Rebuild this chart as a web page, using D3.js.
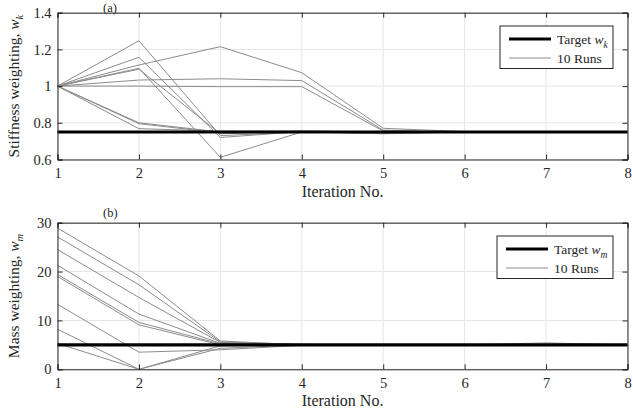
<!DOCTYPE html>
<html>
<head>
<meta charset="utf-8">
<script src="https://cdn.jsdelivr.net/npm/d3@7"></script>
<style>
  body { margin: 0; background: #fff; }
  svg { display: block; font-family: "Liberation Serif", "DejaVu Serif", serif; }
  .grid line { stroke: #e6e6e6; stroke-width: 1; }
  .run { fill: none; stroke: #8c8c8c; stroke-width: 1; }
  .target { fill: none; stroke: #000; stroke-width: 3.2; }
</style>
</head>
<body>
<svg id="chart"></svg>
<script>
const iterations = [1, 2, 3, 4, 5, 6, 7, 8];

const wkTarget = 0.75;
const wkRuns = [
  [1, 1.247, 0.730, 0.750, 0.748, 0.750, 0.750, 0.750],
  [1, 1.157, 0.720, 0.752, 0.750, 0.750, 0.750, 0.750],
  [1, 1.115, 1.215, 1.073, 0.770, 0.752, 0.750, 0.750],
  [1, 1.097, 0.612, 0.750, 0.745, 0.750, 0.750, 0.750],
  [1, 1.092, 0.740, 0.755, 0.750, 0.750, 0.750, 0.750],
  [1, 1.033, 1.040, 1.030, 0.760, 0.750, 0.750, 0.750],
  [1, 1.000, 0.997, 0.997, 0.755, 0.750, 0.750, 0.750],
  [1, 0.800, 0.750, 0.752, 0.740, 0.750, 0.750, 0.750],
  [1, 0.795, 0.745, 0.750, 0.742, 0.750, 0.750, 0.750],
  [1, 0.768, 0.755, 0.755, 0.750, 0.750, 0.750, 0.750]
];
const wkTicks = [0.6, 0.8, 1, 1.2, 1.4];

const wmTarget = 5;
const wmRuns = [
  [28.9, 19.1, 5.8, 5.0, 5.0, 5.0, 5.0, 5.0],
  [27.1, 17.3, 5.6, 5.1, 5.0, 5.0, 5.4, 5.0],
  [24.5, 14.7, 5.5, 5.0, 5.0, 5.0, 5.0, 5.0],
  [21.3, 11.3, 5.3, 5.0, 5.0, 5.0, 5.0, 5.0],
  [19.4, 9.6, 5.2, 5.0, 5.0, 5.0, 5.0, 5.0],
  [19.0, 9.1, 5.0, 5.0, 5.0, 5.0, 5.0, 5.0],
  [13.3, 3.5, 4.0, 4.9, 5.0, 5.0, 5.0, 5.0],
  [8.2, 0.0, 4.8, 5.0, 5.0, 5.0, 5.0, 5.0],
  [5.3, 0.0, 4.3, 5.0, 5.0, 5.0, 5.0, 5.0],
  [5.0, 5.0, 4.9, 5.0, 5.0, 5.0, 5.0, 5.0]
];
const wmTicks = [0, 10, 20, 30];

const width = 633, height = 420;
const svg = d3.select("#chart").attr("width", width).attr("height", height);

const x = d3.scaleLinear().domain([1, 8]).range([57.5, 627.5]);

function panel({ top, bottom, domain, ticks, tickFmt, runs, target, label, labelY, yTitle, sub, legend }) {
  const y = d3.scaleLinear().domain(domain).range([bottom, top]);
  const g = svg.append("g");

  // grid
  g.append("g").attr("class", "grid")
    .selectAll("line.gx").data(iterations).join("line")
    .attr("x1", d => x(d)).attr("x2", d => x(d))
    .attr("y1", top).attr("y2", bottom);
  g.append("g").attr("class", "grid")
    .selectAll("line.gy").data(ticks).join("line")
    .attr("x1", x.range()[0]).attr("x2", x.range()[1])
    .attr("y1", d => y(d)).attr("y2", d => y(d));

  // data
  const line = d3.line().x((d, i) => x(iterations[i])).y(d => y(d));
  g.append("g").selectAll("path").data(runs).join("path")
    .attr("class", "run").attr("d", line);
  g.append("path").attr("class", "target")
    .attr("d", line(iterations.map(() => target)));

  // axes, ticks inward, box on all sides
  const tickLen = 5;
  const axes = g.append("g").attr("class", "axes");
  axes.append("g").attr("transform", `translate(0,${bottom})`)
    .call(d3.axisBottom(x).tickValues(iterations).tickFormat(d3.format("d")).tickSize(-tickLen).tickPadding(8));
  axes.append("g").attr("transform", `translate(0,${top})`)
    .call(d3.axisTop(x).tickValues(iterations).tickFormat("").tickSize(-tickLen));
  axes.append("g").attr("transform", `translate(${x.range()[0]},0)`)
    .call(d3.axisLeft(y).tickValues(ticks).tickFormat(tickFmt).tickSize(-tickLen).tickPadding(6));
  axes.append("g").attr("transform", `translate(${x.range()[1]},0)`)
    .call(d3.axisRight(y).tickValues(ticks).tickFormat("").tickSize(-tickLen));
  axes.selectAll(":scope > g").attr("font-family", null).attr("font-size", 14.5);
  axes.selectAll(".domain").attr("stroke", "#262626").attr("stroke-width", 1);
  axes.selectAll(".tick line").attr("stroke", "#262626");
  axes.selectAll(".tick text").attr("fill", "#262626");

  // titles
  g.append("text").attr("x", x(4.5)).attr("y", bottom + 37)
    .attr("text-anchor", "middle").attr("font-size", 16).attr("fill", "#262626")
    .text("Iteration No.");

  const yt = g.append("text")
    .attr("transform", `translate(19,${(top + bottom) / 2}) rotate(-90)`)
    .attr("text-anchor", "middle").attr("font-size", 15.5).attr("fill", "#262626");
  yt.append("tspan").text(yTitle + ", ");
  yt.append("tspan").attr("font-style", "italic").text("w");
  yt.append("tspan").attr("font-style", "italic").attr("font-size", 10.5).attr("dy", 4).text(sub);

  g.append("text").attr("x", 103).attr("y", labelY)
    .attr("font-size", 12.5).attr("fill", "#262626").text(label);

  // legend
  const lg = g.append("g");
  lg.append("rect").attr("x", legend.x0).attr("y", legend.y0)
    .attr("width", 613 - legend.x0).attr("height", 42.5)
    .attr("fill", "#fff").attr("stroke", "#262626").attr("stroke-width", 1);
  const rows = [
    { cls: "target", text: "Target ", sub: sub },
    { cls: "run", text: "10 Runs" }
  ];
  rows.forEach((r, i) => {
    const cy = legend.y0 + 13 + i * 19;
    lg.append("line").attr("class", r.cls)
      .attr("x1", legend.x0 + 9).attr("x2", legend.x0 + 51)
      .attr("y1", cy).attr("y2", cy);
    const t = lg.append("text").attr("x", legend.x0 + 57).attr("y", cy + 4.5)
      .attr("font-size", 13.5).attr("fill", "#262626");
    t.append("tspan").text(r.text);
    if (r.sub) {
      t.append("tspan").attr("font-style", "italic").text("w");
      t.append("tspan").attr("font-style", "italic").attr("font-size", 9.5).attr("dy", 4).text(r.sub);
    }
  });
}

panel({
  top: 12.7, bottom: 159.5, domain: [0.6, 1.4], ticks: wkTicks,
  tickFmt: d => d3.format("")(+d.toFixed(1)),
  runs: wkRuns, target: wkTarget, label: "(a)", labelY: 11.5,
  yTitle: "Stiffness weighting", sub: "k",
  legend: { x0: 500, y0: 26 }
});

panel({
  top: 222.7, bottom: 369.3, domain: [0, 30], ticks: wmTicks,
  tickFmt: d3.format("d"),
  runs: wmRuns, target: wmTarget, label: "(b)", labelY: 216.7,
  yTitle: "Mass weighting", sub: "m",
  legend: { x0: 497, y0: 236 }
});
</script>
</body>
</html>
